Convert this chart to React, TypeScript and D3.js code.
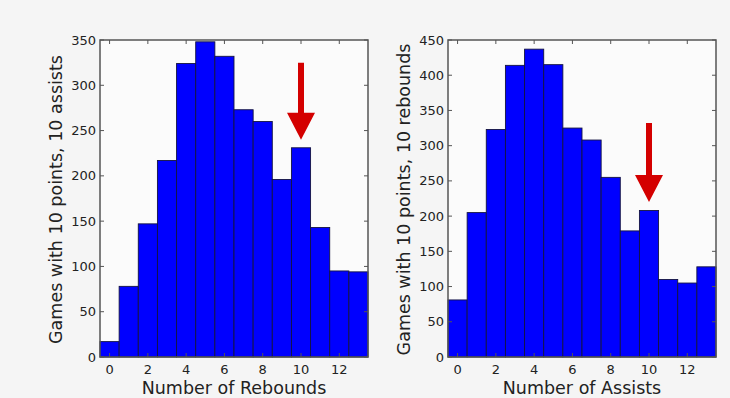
import * as d3 from 'd3';

const BINS = [0, 1, 2, 3, 4, 5, 6, 7, 8, 9, 10, 11, 12, 13];
const X_TICKS = [0, 2, 4, 6, 8, 10, 12];

const REBOUND_COUNTS = [17, 78, 147, 217, 324, 348, 332, 273, 260, 196, 231, 143, 95, 94];
const REBOUND_Y_TICKS = [0, 50, 100, 150, 200, 250, 300, 350];
const REBOUND_ARROW = { x: 10, from: 325, to: 240 };

const ASSIST_COUNTS = [81, 205, 323, 414, 437, 415, 325, 308, 255, 179, 208, 110, 105, 128];
const ASSIST_Y_TICKS = [0, 50, 100, 150, 200, 250, 300, 350, 400, 450];
const ASSIST_ARROW = { x: 10, from: 332, to: 220 };

const W = 730;
const H = 398;
const TEXT = '#222';
const FONT = 'DejaVu Sans, sans-serif';

interface PanelProps {
  left: number;
  right: number;
  top: number;
  bottom: number;
  counts: number[];
  yTicks: number[];
  yMax: number;
  yLabel: string;
  xLabel: string;
  arrow: { x: number; from: number; to: number };
}

function Panel({ left, right, top, bottom, counts, yTicks, yMax, yLabel, xLabel, arrow }: PanelProps) {
  const x = d3.scaleLinear().domain([-0.5, 13.5]).range([left, right]);
  const y = d3.scaleLinear().domain([0, yMax]).range([bottom, top]);
  const bw = x(1) - x(0);

  // arrow geometry (head size in px)
  const ax = x(arrow.x);
  const headH = 27;
  const headW = 14;
  const shaft = 3;
  const yTip = y(arrow.to);
  const yTop = y(arrow.from);
  const arrowPath = `M${ax - shaft},${yTop} L${ax + shaft},${yTop} L${ax + shaft},${yTip - headH} L${ax + headW},${yTip - headH} L${ax},${yTip} L${ax - headW},${yTip - headH} L${ax - shaft},${yTip - headH} Z`;

  return (
    <g>
      <rect x={left} y={top} width={right - left} height={bottom - top} fill="#fbfbfb" />
      {BINS.map((b, i) => (
        <rect
          key={b}
          x={x(b - 0.5)}
          y={y(counts[i])}
          width={bw}
          height={bottom - y(counts[i])}
          fill="#0000ff"
          stroke="#141440"
          strokeWidth={0.9}
        />
      ))}
      <path d={arrowPath} fill="#d40000" />
      <rect x={left} y={top} width={right - left} height={bottom - top} fill="none" stroke="#555" strokeWidth={1.5} />
      {X_TICKS.map((t) => (
        <g key={t}>
          <line x1={x(t)} x2={x(t)} y1={bottom} y2={bottom - 4} stroke="#555" />
          <line x1={x(t)} x2={x(t)} y1={top} y2={top + 4} stroke="#555" />
          <text x={x(t)} y={bottom + 17} textAnchor="middle" fontSize={13} fill={TEXT} fontFamily={FONT}>
            {t}
          </text>
        </g>
      ))}
      {yTicks.map((t) => (
        <g key={t}>
          <line x1={left} x2={left + 4} y1={y(t)} y2={y(t)} stroke="#555" />
          <line x1={right} x2={right - 4} y1={y(t)} y2={y(t)} stroke="#555" />
          <text x={left - 4} y={y(t) + 4.5} textAnchor="end" fontSize={13} fill={TEXT} fontFamily={FONT}>
            {t}
          </text>
        </g>
      ))}
      <text
        x={(left + right) / 2}
        y={bottom + 37}
        textAnchor="middle"
        fontSize={17.5}
        fill={TEXT}
        fontFamily={FONT}
      >
        {xLabel}
      </text>
      <text
        transform={`translate(${left - 38},${(top + bottom) / 2 + 1}) rotate(-90)`}
        textAnchor="middle"
        fontSize={17.5}
        fill={TEXT}
        fontFamily={FONT}
      >
        {yLabel}
      </text>
    </g>
  );
}

export default function App() {
  return (
    <svg
      width={W}
      height={H}
      style={{ position: 'absolute', left: 0, top: 0, background: '#f5f5f5' }}
    >
      <rect width={W} height={H} fill="#f5f5f5" />
      <Panel
        left={100}
        right={368}
        top={40}
        bottom={357}
        counts={REBOUND_COUNTS}
        yTicks={REBOUND_Y_TICKS}
        yMax={350}
        yLabel="Games with 10 points, 10 assists"
        xLabel="Number of Rebounds"
        arrow={REBOUND_ARROW}
      />
      <Panel
        left={448}
        right={716}
        top={40}
        bottom={357}
        counts={ASSIST_COUNTS}
        yTicks={ASSIST_Y_TICKS}
        yMax={450}
        yLabel="Games with 10 points, 10 rebounds"
        xLabel="Number of Assists"
        arrow={ASSIST_ARROW}
      />
    </svg>
  );
}
